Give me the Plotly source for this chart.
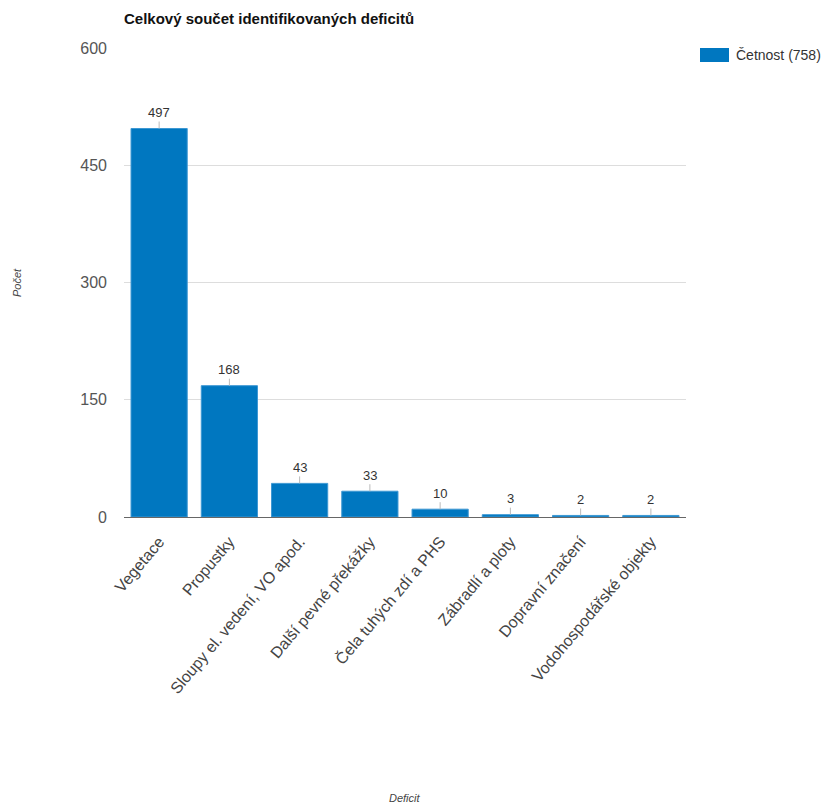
import plotly.graph_objects as go

categories = ["Vegetace", "Propustky", "Sloupy el. vedení, VO apod.", "Další pevné překážky",
              "Čela tuhých zdí a PHS", "Zábradlí a ploty", "Dopravní značení", "Vodohospodářské objekty"]
values = [497, 168, 43, 33, 10, 3, 2, 2]
y_ticks = [0, 150, 300, 450, 600]
series_name = "Četnost"
title_text = "Celkový součet identifikovaných deficitů"

BAR = "#0077c0"
FONT = "Liberation Sans, Arial, sans-serif"

fig = go.Figure()
fig.add_trace(go.Bar(x=categories, y=values, marker=dict(color=BAR, line=dict(color="#3d98d3", width=1)),
                     name=series_name, showlegend=False, hoverinfo="x+y"))

annotations = []
for c, v in zip(categories, values):
    annotations.append(dict(x=c, y=v, xref="x", yref="y", text=str(v), showarrow=True,
                            arrowhead=0, arrowwidth=1, arrowcolor="#bbbbbb", ax=0, ay=-16,
                            font=dict(size=13, color="#333", family=FONT)))

W, H = 824, 805
ml, mr, mt, mb = 124, 138, 48, 288
pw, ph = W - ml - mr, H - mt - mb

def px(xp):
    return (xp - ml) / pw

def py(yp):
    return (H - mb - yp) / ph

# axis titles
annotations.append(dict(x=px(17), y=py(283), xref="paper", yref="paper", text="Počet", showarrow=False,
                        textangle=-90, font=dict(size=11, color="#444", family=FONT, style="italic"),
                        xanchor="center", yanchor="middle"))
annotations.append(dict(x=px(405), y=py(798), xref="paper", yref="paper", text="Deficit", showarrow=False,
                        font=dict(size=11, color="#444", family=FONT, style="italic"),
                        xanchor="center", yanchor="middle"))
# legend
annotations.append(dict(x=px(734), y=py(55), xref="paper", yref="paper",
                        text=f"{series_name} ({sum(values)})", showarrow=False,
                        font=dict(size=14, color="#333", family=FONT), xanchor="left", yanchor="middle"))
shapes = [dict(type="rect", xref="paper", yref="paper", x0=px(700), x1=px(729), y0=py(62), y1=py(48),
               fillcolor=BAR, line=dict(width=0))]

fig.update_layout(
    width=W, height=H,
    margin=dict(l=ml, r=mr, t=mt, b=mb, autoexpand=False),
    paper_bgcolor="white", plot_bgcolor="white",
    font=dict(family=FONT, color="#444"),
    title=dict(text=f"<b>{title_text}</b>", x=px(124), xref="paper", xanchor="left",
               y=1 - 19 / H, yref="container", yanchor="middle",
               font=dict(size=15, color="#111", family=FONT)),
    bargap=0.2,
    annotations=annotations,
    shapes=shapes,
    showlegend=False,
)
fig.update_xaxes(tickangle=-50, tickfont=dict(size=16, color="#444"), showgrid=False,
                 showline=True, linecolor="#666", linewidth=1, ticks="", ticklabelstandoff=8)
fig.update_yaxes(range=[0, 600], tickvals=y_ticks, tickfont=dict(size=16, color="#555"),
                 showgrid=True, gridcolor="#dddddd", gridwidth=1, zeroline=False,
                 showline=False, ticks="", ticklabelstandoff=16)

fig.write_html("out.html", config={"displayModeBar": False},
               post_script="document.body.style.margin='0';document.body.style.overflow='hidden';")
